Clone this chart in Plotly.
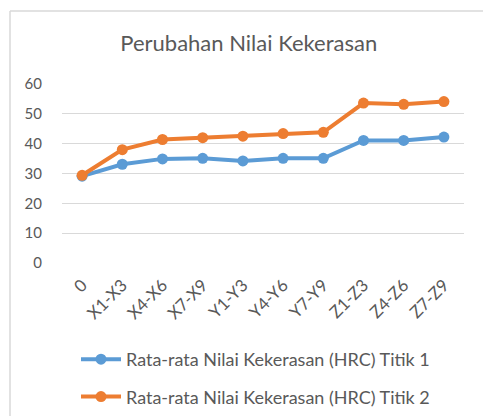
import plotly.graph_objects as go

categories = ["0", "X1-X3", "X4-X6", "X7-X9", "Y1-Y3", "Y4-Y6", "Y7-Y9", "Z1-Z3", "Z4-Z6", "Z7-Z9"]
titik1 = [29.1, 33.1, 34.9, 35.1, 34.2, 35.1, 35.1, 41.1, 41.1, 42.2]
titik2 = [29.4, 38.0, 41.4, 42.0, 42.5, 43.4, 43.8, 53.6, 53.2, 54.1]
name1 = "Rata-rata Nilai Kekerasan (HRC) Titik 1"
name2 = "Rata-rata Nilai Kekerasan (HRC) Titik 2"
y_ticks = [0, 10, 20, 30, 40, 50, 60]

FONT = "Lato, 'Open Sans', sans-serif"
GREY = "#595959"

fig = go.Figure()
fig.add_trace(go.Scatter(x=categories, y=titik1, name=name1, mode="lines+markers",
                         legendgroup="a",
                         line=dict(color="#5B9BD5", width=4),
                         marker=dict(color="#5B9BD5", size=11)))
fig.add_trace(go.Scatter(x=categories, y=titik2, name=name2, mode="lines+markers",
                         legendgroup="b",
                         line=dict(color="#ED7D31", width=4),
                         marker=dict(color="#ED7D31", size=11)))

L, R, T, B = 62, 19, 84, 153
W, H = 483, 416
pw, ph = W - L - R, H - T - B

def px(x):
    return (x - L) / pw

def py(y):
    return (H - B - y) / ph

fig.update_layout(
    width=W, height=H,
    margin=dict(l=L, r=R, t=T, b=B, autoexpand=False),
    paper_bgcolor="white", plot_bgcolor="white",
    font=dict(family=FONT, color=GREY, size=17),
    title=dict(text="Perubahan Nilai Kekerasan", x=0.515, xanchor="center",
               y=1 - 43 / H, yanchor="middle",
               font=dict(size=22, color=GREY, family=FONT)),
    showlegend=True,
    legend=dict(x=px(76), xanchor="left", y=py(341), yanchor="top",
                orientation="v", font=dict(size=18, color=GREY, family=FONT),
                bgcolor="rgba(0,0,0,0)", traceorder="grouped", tracegroupgap=11,
                itemwidth=40),
    xaxis=dict(type="category", showgrid=False, showline=False, zeroline=False,
               automargin=False, range=[-0.5, 9.5], ticklabelstandoff=8,
               tickangle=-45, tickfont=dict(size=17, color=GREY), ticks=""),
    yaxis=dict(range=[0, 60], tickvals=y_ticks, showgrid=True, gridcolor="#d9d9d9",
               gridwidth=1, zeroline=False, showline=False, ticks="", automargin=False,
               tickfont=dict(size=15, color=GREY), ticklabelstandoff=19),
    shapes=[
        dict(type="line", xref="paper", yref="paper", x0=px(10), x1=px(10),
             y0=py(11), y1=py(420), line=dict(color="#d9d9d9", width=1.5)),
        dict(type="line", xref="paper", yref="paper", x0=px(10), x1=px(490),
             y0=py(11), y1=py(11), line=dict(color="#d9d9d9", width=1.5)),
    ],
)

fig.write_html("out.html", config={"displayModeBar": False},
               post_script="document.body.style.margin='0';")
